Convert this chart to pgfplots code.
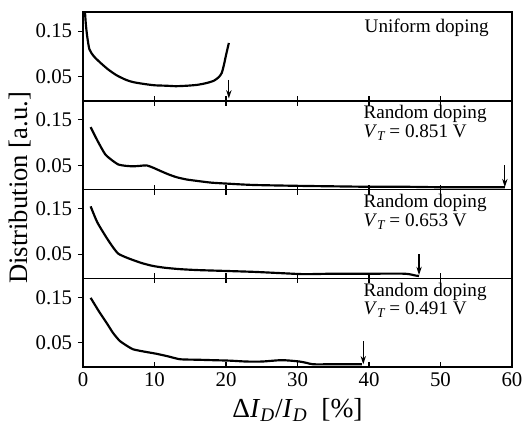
\documentclass[border=0pt]{standalone}
\usepackage{fontspec}
\setmainfont{Liberation Serif}
\usepackage{pgfplots}
\pgfplotsset{compat=1.18}
\usepgfplotslibrary{groupplots}
\usetikzlibrary{calc,arrows.meta}
\tikzset{darr/.style={-{Stealth[length=5pt,width=3.2pt]}, line width=0.7pt}}
\begin{document}
\begin{tikzpicture}
\begin{groupplot}[
  group style={group size=1 by 4, vertical sep=0pt, xticklabels at=edge bottom},
  width=257.4pt, height=53.25pt, scale only axis,
  xmin=0, xmax=60, ymin=-0.003, ymax=0.192,
  xtick={0,10,...,60}, ytick={0.05,0.15},
  yticklabels={0.05,0.15},
  xtick pos=both, ytick pos=left,
  xtick align=inside, ytick align=outside,
  major tick length=3pt,
  axis line style={line width=0.9pt},
  tick style={line width=0.7pt, black},
  tick label style={font=\fontsize{12.5}{13}\selectfont},
  /pgf/number format/assume math mode=true,
  clip=true,
  cycle list={{black, line width=1.3pt, mark=none}},
]
\nextgroupplot[xtick pos=bottom]
\addplot[black, line width=1.3pt, mark=none, smooth, tension=0.4] coordinates {(0.2,0.21)(0.4,0.165)(0.6,0.137)(0.9,0.11)(1.5,0.095)(2.4,0.081)(3.5,0.066)(4.7,0.053)(6,0.043)(7,0.038)(8.5,0.034)(10,0.031)(11.7,0.030)(13,0.029)(14.5,0.030)(16,0.032)(17.3,0.036)(18.3,0.041)(19.0,0.049)(19.4,0.058)(19.7,0.075)(20.0,0.097)(20.4,0.124)};
\draw[darr] (axis cs:20.4,0.043) -- (axis cs:20.4,0.002);
\node[anchor=north east, font=\fontsize{11.5}{12}\selectfont, inner sep=0pt] at (axis cs:56.8,0.178) {Uniform doping};

\nextgroupplot
\addplot[black, line width=1.3pt, mark=none, smooth, tension=0.4] coordinates {(1.07,0.134)(2,0.105)(3.08,0.075)(4,0.062)(4.94,0.052)(6,0.049)(7,0.048)(8,0.049)(8.9,0.050)(9.8,0.045)(10.8,0.038)(12,0.030)(13.1,0.024)(14.5,0.019)(16.4,0.015)(18,0.012)(20.1,0.010)(23.8,0.007)(30.3,0.005)(35,0.004)(40,0.003)(45,0.003)(50,0.002)(55,0.002)(59,0.002)};
\draw[darr] (axis cs:59.0,0.05) -- (axis cs:59.0,0.002);
\node[anchor=north west, align=left, font=\fontsize{11.5}{9}\selectfont, inner sep=0pt] at (axis cs:39.2,0.182) {Random doping\\\textit{V}\textsubscript{\textit{T}}\,= 0.851 V};

\nextgroupplot
\addplot[black, line width=1.3pt, mark=none, smooth, tension=0.4] coordinates {(1.07,0.155)(2,0.12)(3.3,0.086)(4.2,0.065)(4.94,0.051)(6,0.043)(7,0.037)(8.3,0.030)(9.8,0.024)(11.5,0.020)(13.6,0.017)(16,0.015)(20.1,0.013)(24,0.011)(28,0.008)(31,0.006)(35,0.007)(40,0.007)(45,0.007)(46.5,0.003)(47,0.002)};
\draw[darr] (axis cs:47.0,0.05) -- (axis cs:47.0,0.004);
\node[anchor=north west, align=left, font=\fontsize{11.5}{9}\selectfont, inner sep=0pt] at (axis cs:39.2,0.182) {Random doping\\\textit{V}\textsubscript{\textit{T}}\,= 0.653 V};

\nextgroupplot[xlabel={Δ\textit{I}\textsubscript{\textit{D}}/\textit{I}\textsubscript{\textit{D}}\ \ [\%]}, xlabel style={font=\fontsize{16.5}{16}\selectfont}]
\addplot[black, line width=1.3pt, mark=none, smooth, tension=0.4] coordinates {(1.07,0.149)(2.2,0.12)(3.3,0.094)(4.2,0.072)(5.1,0.055)(6,0.045)(7,0.036)(8.5,0.031)(10.3,0.026)(12,0.020)(13.6,0.014)(16,0.013)(18.2,0.012)(20.5,0.011)(22.9,0.009)(25,0.009)(27.6,0.012)(29,0.011)(30.3,0.009)(31.3,0.006)(32.2,0.003)(35,0.003)(39,0.003)};
\draw[darr] (axis cs:39.2,0.054) -- (axis cs:39.2,0.003);
\node[anchor=north west, align=left, font=\fontsize{11.5}{9}\selectfont, inner sep=0pt] at (axis cs:39.2,0.182) {Random doping\\\textit{V}\textsubscript{\textit{T}}\,= 0.491 V};
\end{groupplot}
\node[rotate=90, font=\fontsize{16}{16}\selectfont] at ($(group c1r1.north west)!0.5!(group c1r4.south west)+(-38pt,1pt)$) {Distribution [a.u.]};
\pgfresetboundingbox
\path[use as bounding box] ($(group c1r1.north west)+(-49.8pt,7.2pt)$) rectangle ($(group c1r4.south east)+(9.6pt,-34.2pt)$);
\end{tikzpicture}
\end{document}
